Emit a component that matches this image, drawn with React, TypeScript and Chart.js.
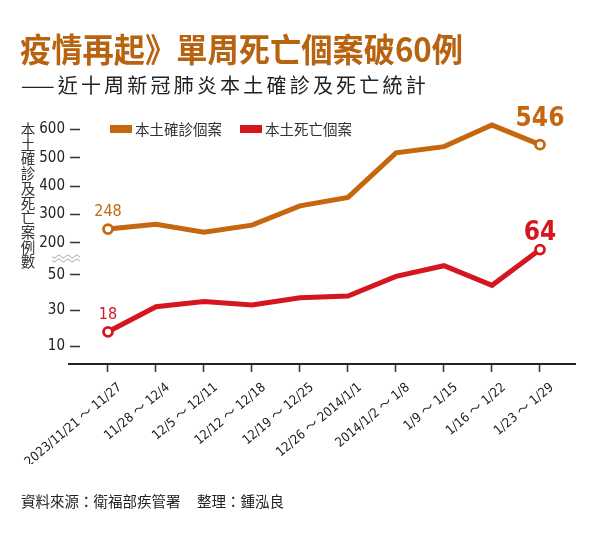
import React, { useEffect, useRef } from 'react';
import { Chart, registerables } from 'chart.js';

Chart.register(...registerables);

// ---------- data ----------
const categories = [
  '2023/11/21 ～ 11/27',
  '11/28 ～ 12/4',
  '12/5 ～ 12/11',
  '12/12 ～ 12/18',
  '12/19 ～ 12/25',
  '12/26 ～ 2014/1/1',
  '2014/1/2 ～ 1/8',
  '1/9 ～ 1/15',
  '1/16 ～ 1/22',
  '1/23 ～ 1/29',
];
const confirmedCases = [248, 265, 237, 262, 330, 360, 517, 539, 615, 546];
const deathCases = [18, 32, 35, 33, 37, 38, 49, 55, 44, 64];
const upperTicks = [200, 300, 400, 500, 600];
const lowerTicks = [10, 30, 50];
const seriesNames = ['本土確診個案', '本土死亡個案'];
const axisTitle = '本土確診及死亡案例數';
const titleText = '疫情再起》單周死亡個案破60例';
const subtitleText = '——近十周新冠肺炎本土確診及死亡統計';
const sourceText = '資料來源：衛福部疾管署';
const editorText = '整理：鍾泓良';

// ---------- styles ----------
const ORANGE = '#C4670F';
const RED = '#D6161F';
const TITLE_COLOR = '#B7630F';
const TEXT = '#222222';
const CJK = "'Noto Sans CJK TC', 'Noto Sans CJK SC', sans-serif";
const NUM = "'Liberation Sans Narrow', 'DejaVu Sans Condensed', 'Roboto', 'Noto Sans CJK TC', sans-serif";

const decorPlugin = {
  id: 'decor',
  afterDraw(chart: any) {
    const ctx = chart.ctx as CanvasRenderingContext2D;
    const area = chart.chartArea;
    ctx.save();

    // Title (condensed to fit)
    ctx.fillStyle = TITLE_COLOR;
    ctx.font = `bold 33px ${CJK}`;
    ctx.textBaseline = 'middle';
    ctx.textAlign = 'left';
    const tw = ctx.measureText(titleText).width;
    ctx.save();
    ctx.translate(20, 49);
    ctx.scale(443 / tw, 1);
    ctx.fillText(titleText, 0, 0);
    ctx.restore();

    // Subtitle
    ctx.fillStyle = TEXT;
    ctx.font = `20px ${CJK}`;
    (ctx as any).letterSpacing = '3.2px';
    ctx.fillText(subtitleText, 21, 85.5);
    (ctx as any).letterSpacing = '0px';

    // Footer
    ctx.font = `14.5px ${CJK}`;
    ctx.fillStyle = TEXT;
    ctx.fillText(sourceText, 21, 501.5);
    ctx.fillText(editorText, 197, 501.5);

    // Vertical axis title (upright characters)
    ctx.font = `14.5px ${CJK}`;
    ctx.fillStyle = '#333333';
    ctx.textAlign = 'center';
    Array.from(axisTitle).forEach((ch, i) => {
      ctx.fillText(ch, 28, 129.5 + i * 14.7);
    });

    // Legend
    ctx.textAlign = 'left';
    ctx.font = `14.5px ${CJK}`;
    const legendItems = [
      { x: 110, color: ORANGE, text: seriesNames[0] },
      { x: 240, color: RED, text: seriesNames[1] },
    ];
    legendItems.forEach((it) => {
      ctx.fillStyle = it.color;
      ctx.fillRect(it.x, 125, 22, 8);
      ctx.fillStyle = '#333333';
      ctx.fillText(it.text, it.x + 25, 129.5);
    });

    // Axis break squiggle
    ctx.strokeStyle = '#9a9a9a';
    ctx.lineWidth = 1;
    [256.5, 260.5].forEach((yy) => {
      ctx.beginPath();
      for (let x = 52; x <= 80; x += 0.5) {
        const y = yy + 1.3 * Math.sin(((x - 52) / 9) * Math.PI * 2);
        if (x === 52) ctx.moveTo(x, y);
        else ctx.lineTo(x, y);
      }
      ctx.stroke();
    });

    // X axis line (extends a little left of the plot area)
    ctx.strokeStyle = '#222222';
    ctx.lineWidth = 2;
    ctx.beginPath();
    ctx.moveTo(area.left - 12, area.bottom);
    ctx.lineTo(area.right, area.bottom);
    ctx.stroke();

    // Value labels on first & last points
    const labelSpecs = [
      { ds: 0, color: ORANGE, lastOffset: 25 },
      { ds: 1, color: RED, lastOffset: 16 },
    ];
    labelSpecs.forEach(({ ds, color, lastOffset }) => {
      const meta = chart.getDatasetMeta(ds);
      const vals = chart.data.datasets[ds].data;
      const first = meta.data[0];
      const last = meta.data[meta.data.length - 1];
      ctx.fillStyle = color;
      ctx.textAlign = 'center';
      ctx.textBaseline = 'middle';
      ctx.font = `16px ${NUM}`;
      ctx.fillText(String(vals[0].y), first.x, first.y - 17);
      ctx.font = `bold 26px ${NUM}`;
      ctx.fillText(String(vals[vals.length - 1].y), last.x, last.y - lastOffset);
    });

    ctx.restore();
  },
};

const endpointRadius = (ctx: any) => {
  const n = ctx.dataset.data.length;
  return ctx.dataIndex === 0 || ctx.dataIndex === n - 1 ? 4.5 : 0;
};

export default function App() {
  const ref = useRef<HTMLCanvasElement | null>(null);

  useEffect(() => {
    const canvas = ref.current;
    if (!canvas) return;
    const tickGrid = {
      display: true,
      drawOnChartArea: false,
      drawTicks: true,
      tickLength: 10,
      tickColor: '#333333',
      tickWidth: 1.5,
    };
    const yTickFont = { family: NUM, size: 15 };
    const chart = new Chart(canvas, {
      type: 'line',
      data: {
        datasets: [
          {
            label: seriesNames[0],
            data: confirmedCases.map((y, i) => ({ x: i, y })),
            yAxisID: 'yTop',
            borderColor: ORANGE,
            borderWidth: 5,
            borderJoinStyle: 'miter',
            tension: 0,
            pointRadius: endpointRadius,
            pointHoverRadius: endpointRadius,
            pointBorderWidth: 2.8,
            pointBackgroundColor: '#ffffff',
            pointBorderColor: ORANGE,
            clip: false,
          },
          {
            label: seriesNames[1],
            data: deathCases.map((y, i) => ({ x: i, y })),
            yAxisID: 'yBottom',
            borderColor: RED,
            borderWidth: 5,
            borderJoinStyle: 'miter',
            tension: 0,
            pointRadius: endpointRadius,
            pointHoverRadius: endpointRadius,
            pointBorderWidth: 2.8,
            pointBackgroundColor: '#ffffff',
            pointBorderColor: RED,
            clip: false,
          },
        ],
      },
      options: {
        animation: false,
        responsive: false,
        maintainAspectRatio: false,
        events: [],
        layout: { padding: { top: 101, left: 40, right: 24, bottom: 69 } },
        plugins: {
          legend: { display: false },
          tooltip: { enabled: false },
          title: { display: false },
        },
        scales: {
          x: {
            type: 'linear',
            min: -0.5833,
            max: 9.75,
            afterBuildTicks: (s: any) => {
              s.ticks = categories.map((_, i) => ({ value: i }));
            },
            afterFit: (s: any) => {
              s.height = 100;
              s.paddingLeft = 0;
              s.paddingRight = 0;
            },
            ticks: {
              autoSkip: false,
              maxRotation: 40,
              minRotation: 40,
              labelOffset: 12,
              padding: 8,
              color: TEXT,
              font: { family: NUM, size: 13 },
              callback: (v: any) => categories[v],
            },
            grid: { ...tickGrid, tickLength: 8 },
            border: { display: false },
          },
          yBottom: {
            type: 'linear',
            position: 'left',
            stack: 'y',
            stackWeight: 106,
            min: 0,
            max: 59.3,
            afterBuildTicks: (s: any) => {
              s.ticks = lowerTicks.map((v) => ({ value: v }));
            },
            afterFit: (s: any) => {
              s.width = 40;
            },
            ticks: { padding: 5, color: TEXT, font: yTickFont },
            grid: tickGrid,
            border: { display: false },
          },
          yTop: {
            type: 'linear',
            position: 'left',
            stack: 'y',
            stackWeight: 157,
            min: 146,
            max: 700,
            afterBuildTicks: (s: any) => {
              s.ticks = upperTicks.map((v) => ({ value: v }));
            },
            afterFit: (s: any) => {
              s.width = 40;
            },
            ticks: { padding: 5, color: TEXT, font: yTickFont },
            grid: tickGrid,
            border: { display: false },
          },
        },
      } as any,
      plugins: [decorPlugin],
    });
    return () => chart.destroy();
  }, []);

  return (
    <div style={{ position: 'fixed', left: 0, top: 0, width: 600, height: 533, background: '#ffffff' }}>
      <canvas ref={ref} width={600} height={533} style={{ width: 600, height: 533, display: 'block' }} />
    </div>
  );
}
